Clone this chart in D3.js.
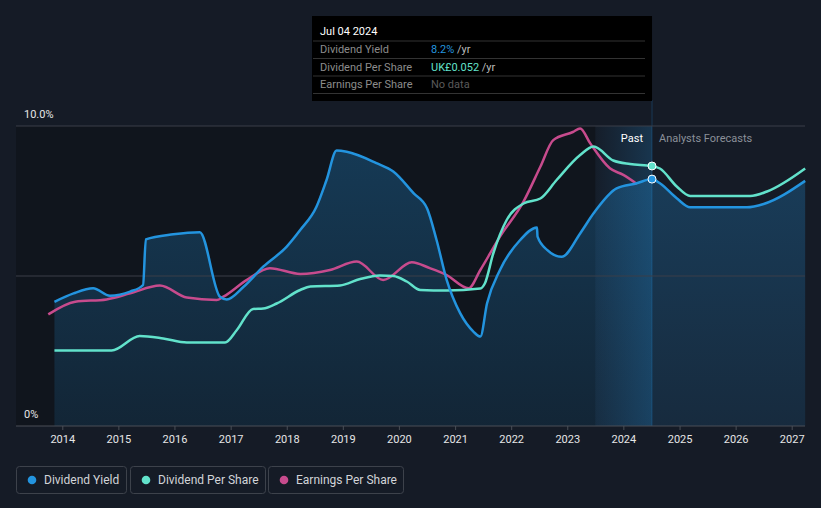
<!DOCTYPE html>
<html><head><meta charset="utf-8">
<script src="https://cdn.jsdelivr.net/npm/d3@7"></script>
<style>
html,body{margin:0;padding:0;background:#151b26;}
svg{display:block;font-family:Roboto,"Noto Sans",sans-serif;}
</style></head><body>
<svg id="c" width="821" height="508"></svg>
<script>
// ---- data (decimal years) ----
const yearTicks = [2014,2015,2016,2017,2018,2019,2020,2021,2022,2023,2024,2025,2026,2027];
const yieldTicks = [0, 5, 10];
const yieldTickLabels = ["0%", "", "10.0%"];

const dyPastT = [2013.86,2014.2,2014.55,2014.85,2015.21,2015.44,2015.49,2015.98,2016.45,2016.81,2016.93,2017.23,2017.58,2018.0,2018.24,2018.53,2018.71,2018.89,2019.07,2019.6,2019.9,2020.26,2020.5,2020.67,2020.85,2021.09,2021.33,2021.45,2021.57,2021.8,2022.16,2022.46,2022.47,2022.64,2022.9,2023.23,2023.47,2023.88,2024.24,2024.51];
const dyPastV = [4.14,4.42,4.59,4.34,4.48,4.70,6.22,6.39,6.46,4.31,4.22,4.64,5.31,5.98,6.53,7.31,8.2,9.18,9.14,8.76,8.48,7.76,7.26,6.2,4.87,3.76,3.14,2.98,4.09,5.2,6.2,6.62,6.31,5.87,5.64,6.42,7.09,7.92,8.09,8.23];
const dyFcT = [2024.65,2024.95,2025.19,2026.2,2026.5,2027.24];
const dyFcV = [8.09,7.59,7.29,7.29,7.4,8.17];

const dpsPastT = [2013.86,2014.88,2015.38,2015.8,2016.22,2016.9,2017.11,2017.4,2017.58,2017.82,2018.24,2018.42,2018.95,2019.31,2019.66,2019.9,2020.14,2020.38,2020.85,2021.45,2021.53,2021.68,2021.92,2022.22,2022.52,2022.81,2023.23,2023.47,2023.82,2024.12,2024.51];
const dpsPastV = [0.0151,0.0151,0.0180,0.0175,0.0167,0.0167,0.0192,0.0234,0.0235,0.0245,0.0272,0.0279,0.0281,0.0294,0.0301,0.0300,0.0289,0.0272,0.0271,0.0275,0.0285,0.0345,0.0412,0.0445,0.0455,0.0492,0.0542,0.0559,0.0531,0.0524,0.052];
const dpsFcT = [2024.65,2024.95,2025.19,2026.26,2026.56,2027.24];
const dpsFcV = [0.0515,0.0479,0.0460,0.0460,0.0469,0.0515];

const epsT = [2013.75,2014.23,2014.79,2015.21,2015.74,2016.22,2016.75,2016.87,2017.29,2017.7,2018.24,2018.77,2019.25,2019.72,2020.23,2020.55,2020.85,2021.24,2021.45,2021.8,2022.22,2022.52,2022.75,2023.1,2023.23,2023.41,2023.76,2024.0,2024.24];
const epsV = [0.0372,0.0414,0.0422,0.0442,0.0468,0.0428,0.0420,0.0431,0.0487,0.0526,0.0507,0.0520,0.0548,0.0487,0.0546,0.0526,0.0503,0.0459,0.0520,0.0631,0.0748,0.0864,0.0953,0.0980,0.0992,0.0942,0.0859,0.0837,0.0807];

const seriesNames = ["Dividend Yield","Dividend Per Share","Earnings Per Share"];
const seriesColors = ["#2394df","#62e2cb","#c74b8d"];

const nowT = 2024.51, pastBandStart = 2023.5;
const tipTitle = "Jul 04 2024";
const tipRows = [["Dividend Yield","8.2%"," /yr"],["Dividend Per Share","UK£0.052"," /yr"],["Earnings Per Share","No data",""]];

// ---- helpers ----
function toDate(t){const y=Math.floor(t);const s=new Date(y,0,1),e=new Date(y+1,0,1);return new Date(+s+(t-y)*(e-s));}
const zip=(T,V)=>T.map((t,i)=>({d:toDate(t),v:V[i]}));

const svg=d3.select("#c");
const x=d3.scaleTime().domain([toDate(2014),toDate(2027)]).range([62.3,791.7]);
const yDY=d3.scaleLinear().domain([0,10]).range([426,126]);
const yDPS=d3.scaleLinear().domain([0,0.06]).range([426,126]);
const yEPS=d3.scaleLinear().domain([0,0.1]).range([426,126]);
const left=16,right=805;

const defs=svg.append("defs");
const ag=defs.append("linearGradient").attr("id","ag").attr("gradientUnits","userSpaceOnUse").attr("x1",0).attr("x2",0).attr("y1",126).attr("y2",426);
ag.append("stop").attr("offset",0).attr("stop-color","#2394df").attr("stop-opacity",0.3);
ag.append("stop").attr("offset",1).attr("stop-color","#2394df").attr("stop-opacity",0.13);
const bg=defs.append("linearGradient").attr("id","bg").attr("x1",0).attr("x2",1).attr("y1",0).attr("y2",0);
bg.append("stop").attr("offset",0).attr("stop-color","#2394df").attr("stop-opacity",0.02);
bg.append("stop").attr("offset",1).attr("stop-color","#2394df").attr("stop-opacity",0.22);

// past dark region
svg.append("rect").attr("x",left).attr("y",126).attr("width",x(toDate(pastBandStart))-left).attr("height",300).attr("fill","#000").attr("opacity",0.22);

// area under dividend yield
const dyAll=zip(dyPastT.concat(dyFcT),dyPastV.concat(dyFcV));
svg.append("path").datum(dyAll).attr("fill","url(#ag)")
  .attr("d",d3.area().x(d=>x(d.d)).y0(yDY(0)).y1(d=>yDY(d.v)).curve(d3.curveMonotoneX));

// past highlight band
svg.append("rect").attr("x",x(toDate(pastBandStart))).attr("y",126).attr("width",x(toDate(nowT))-x(toDate(pastBandStart))).attr("height",300).attr("fill","url(#bg)");
svg.append("line").attr("x1",x(toDate(nowT))).attr("x2",x(toDate(nowT))).attr("y1",100).attr("y2",426).attr("stroke","#2394df").attr("stroke-opacity",0.25).attr("stroke-width",1);

// gridlines
svg.selectAll(".g").data(yieldTicks).enter().append("line")
  .attr("x1",left).attr("x2",right).attr("y1",d=>yDY(d)).attr("y2",d=>yDY(d))
  .attr("stroke",d=>d===0?"#4a4f57":"#3a3f48").attr("stroke-width",1);
svg.selectAll(".yl").data(yieldTicks).enter().append("text")
  .attr("x",24).attr("y",d=>yDY(d)-8).text((d,i)=>yieldTickLabels[i])
  .attr("fill","#e6e6e6").attr("font-size",11);

// x axis
const ax=svg.append("g").attr("transform","translate(0,426)")
  .call(d3.axisBottom(x).tickValues(yearTicks.map(toDate)).tickFormat(d3.timeFormat("%Y")).tickSize(4).tickPadding(5));
ax.select(".domain").remove();
ax.selectAll("line").attr("stroke","#4a4f57");
ax.selectAll("text").attr("fill","#e6e6e6").attr("font-size",11).attr("font-family","Roboto,sans-serif");

// lines
const line=(ys)=>d3.line().x(d=>x(d.d)).y(d=>ys(d.v)).curve(d3.curveMonotoneX);
svg.append("path").datum(zip(epsT,epsV)).attr("fill","none").attr("stroke",seriesColors[2]).attr("stroke-width",2.5).attr("d",line(yEPS));
svg.append("path").datum(zip(dpsPastT.concat(dpsFcT),dpsPastV.concat(dpsFcV))).attr("fill","none").attr("stroke",seriesColors[1]).attr("stroke-width",2.5).attr("d",line(yDPS));
svg.append("path").datum(dyAll).attr("fill","none").attr("stroke",seriesColors[0]).attr("stroke-width",2.5).attr("d",line(yDY));

// markers
svg.append("circle").attr("cx",x(toDate(nowT))).attr("cy",yDPS(dpsPastV[dpsPastV.length-1])).attr("r",4).attr("fill",seriesColors[1]).attr("stroke","#fff").attr("stroke-width",1);
svg.append("circle").attr("cx",x(toDate(nowT))).attr("cy",yDY(dyPastV[dyPastV.length-1])).attr("r",4).attr("fill",seriesColors[0]).attr("stroke","#fff").attr("stroke-width",1);

// Past / forecast labels
svg.append("text").attr("x",x(toDate(nowT))-9).attr("y",142).attr("text-anchor","end").attr("fill","#fff").attr("font-size",11).text("Past");
svg.append("text").attr("x",x(toDate(nowT))+7).attr("y",142).attr("fill","#8b9099").attr("font-size",11).text("Analysts Forecasts");

// tooltip
const tx=312, tw=x(toDate(nowT))-312;
svg.append("rect").attr("x",tx).attr("y",16).attr("width",tw).attr("height",85).attr("fill","#000");
svg.append("text").attr("x",320).attr("y",35).attr("fill","#fff").attr("font-size",11).text(tipTitle);
[41,58.5,76,93.5].forEach(yy=>svg.append("line").attr("x1",tx+1).attr("x2",tx+tw-7).attr("y1",yy).attr("y2",yy).attr("stroke","#333"));
tipRows.forEach((r,i)=>{
  const yy=53+i*17.5;
  svg.append("text").attr("x",320).attr("y",yy).attr("fill","#8c8c8c").attr("font-size",11).text(r[0]);
  const t=svg.append("text").attr("x",431).attr("y",yy).attr("font-size",11);
  t.append("tspan").attr("fill",i===0?seriesColors[0]:i===1?seriesColors[1]:"#5a5a5a").text(r[1]);
  t.append("tspan").attr("fill","#bbb").text(r[2]);
});

// legend
const lg=[{x:16,w:110},{x:130,w:135},{x:268,w:135}];
seriesNames.forEach((n,i)=>{
  const g=svg.append("g");
  g.append("rect").attr("x",lg[i].x+0.5).attr("y",466.5).attr("width",lg[i].w).attr("height",27).attr("rx",3).attr("fill","none").attr("stroke","#3d424b");
  g.append("circle").attr("cx",lg[i].x+16).attr("cy",480).attr("r",4.3).attr("fill",seriesColors[i]);
  g.append("text").attr("x",lg[i].x+28).attr("y",484).attr("fill","#d2d4d8").attr("font-size",12).text(n);
});
</script></body></html>
